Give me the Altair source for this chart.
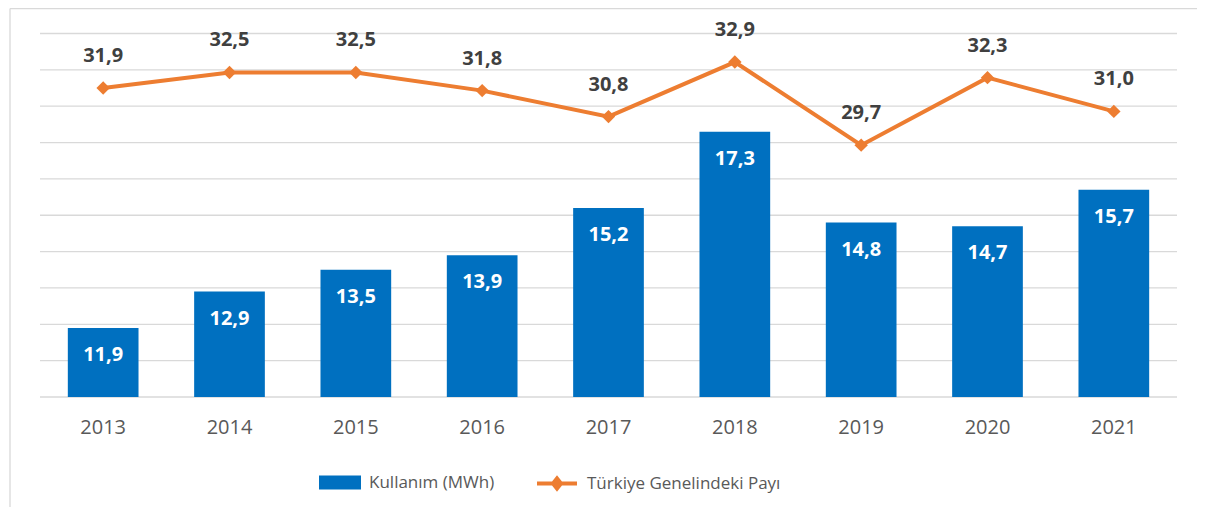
import altair as alt
import pandas as pd

years = ["2013", "2014", "2015", "2016", "2017", "2018", "2019", "2020", "2021"]
usage = [11.9, 12.9, 13.5, 13.9, 15.2, 17.3, 14.8, 14.7, 15.7]
share = [31.9, 32.5, 32.5, 31.8, 30.8, 32.9, 29.7, 32.3, 31.0]
grid_values = [10, 11, 12, 13, 14, 15, 16, 17, 18, 19, 20]
bar_name = "Kullanım (MWh)"
line_name = "Türkiye Genelindeki Payı"

BLUE = "#0070C0"
ORANGE = "#ED7D31"
GRID = "#d9d9d9"
FONT = "Open Sans"

df = pd.DataFrame({
    "year": years,
    "usage": usage,
    "share": share,
    "usage_lbl": [f"{v:.1f}".replace(".", ",") for v in usage],
    "share_lbl": [f"{v:.1f}".replace(".", ",") for v in share],
    "s1": bar_name,
    "s2": line_name,
})
grid_df = pd.DataFrame({"g": grid_values})

x = alt.X("year:N", title=None,
          scale=alt.Scale(paddingInner=0.44, paddingOuter=0.22),
          axis=alt.Axis(labelAngle=0, ticks=False, domain=False, grid=False, labelFontSize=20,
                        labelColor="#595959", labelPadding=20, labelFont=FONT))

yb_scale = alt.Scale(domain=[10, 20], zero=False, nice=False)
yl_scale = alt.Scale(domain=[20, 34], zero=False, nice=False)

frame = pd.DataFrame({"a": [0]})
top_border = alt.Chart(frame).mark_rule(stroke=GRID, strokeWidth=1.3).encode(
    x=alt.value(-30), x2=alt.value(1400), y=alt.value(-25))
left_border = alt.Chart(frame).mark_rule(stroke=GRID, strokeWidth=1.3).encode(
    x=alt.value(-30), y=alt.value(-25), y2=alt.value(700))

grid = alt.Chart(grid_df).mark_rule(stroke=GRID, strokeWidth=1.3).encode(
    y=alt.Y("g:Q", scale=yb_scale, axis=None))

bar = alt.Chart(df).mark_bar(size=70.7).encode(
    x=x,
    y=alt.Y("usage:Q", scale=yb_scale, axis=None),
    y2=alt.datum(10),
    fill=alt.Fill("s1:N", scale=alt.Scale(domain=[bar_name], range=[BLUE]),
                  legend=alt.Legend(title=None, orient="none", legendX=279, legendY=428,
                                    symbolType="M-1,-0.333H1V0.333H-1Z", symbolSize=1764,
                                    symbolStrokeWidth=0, labelFont=FONT, labelFontSize=17,
                                    labelColor="#595959", labelOffset=8, padding=0,
                                    labelLimit=400)),
)
bar_text = alt.Chart(df).mark_text(dy=27, color="white", fontWeight="bold", fontSize=20,
                                   font=FONT, baseline="middle").encode(
    x=x, y=alt.Y("usage:Q", scale=yb_scale, axis=None), text="usage_lbl:N")

bars = alt.layer(grid, bar, bar_text)

line = alt.Chart(df).mark_line(strokeWidth=4).encode(
    x=x,
    y=alt.Y("share:Q", scale=yl_scale, axis=None),
    stroke=alt.Stroke("s2:N", scale=alt.Scale(domain=[line_name], range=[ORANGE]),
                      legend=alt.Legend(title=None, orient="none", legendX=495, legendY=428,
                                        symbolType="M-1,0H1M-0.2,0L0,-0.25L0.2,0L0,0.25Z",
                                        symbolSize=1600, symbolStrokeWidth=4,
                                        symbolFillColor=ORANGE, labelFont=FONT,
                                        labelFontSize=17, labelColor="#595959",
                                        labelOffset=8, padding=0, labelLimit=400)),
)
pts = alt.Chart(df).mark_point(shape="diamond", size=180, filled=True, color=ORANGE,
                               opacity=1).encode(
    x=x, y=alt.Y("share:Q", scale=yl_scale, axis=None))
line_text = alt.Chart(df).mark_text(dy=-32, color="#404040", fontWeight="bold", fontSize=20,
                                    font=FONT, baseline="middle").encode(
    x=x, y=alt.Y("share:Q", scale=yl_scale, axis=None), text="share_lbl:N")

lines = alt.layer(line, pts, line_text)

chart = alt.layer(top_border, left_border, bars, lines).resolve_scale(
    y="independent", fill="independent", stroke="independent"
).properties(
    width=1137, height=363.5,
    autosize=alt.AutoSizeParams(type="none"),
    padding={"left": 32, "top": 25.5, "right": 20, "bottom": 110},
).configure(font=FONT).configure_view(stroke=None)

chart.save("out.html", embed_options={"renderer": "svg", "actions": False})
